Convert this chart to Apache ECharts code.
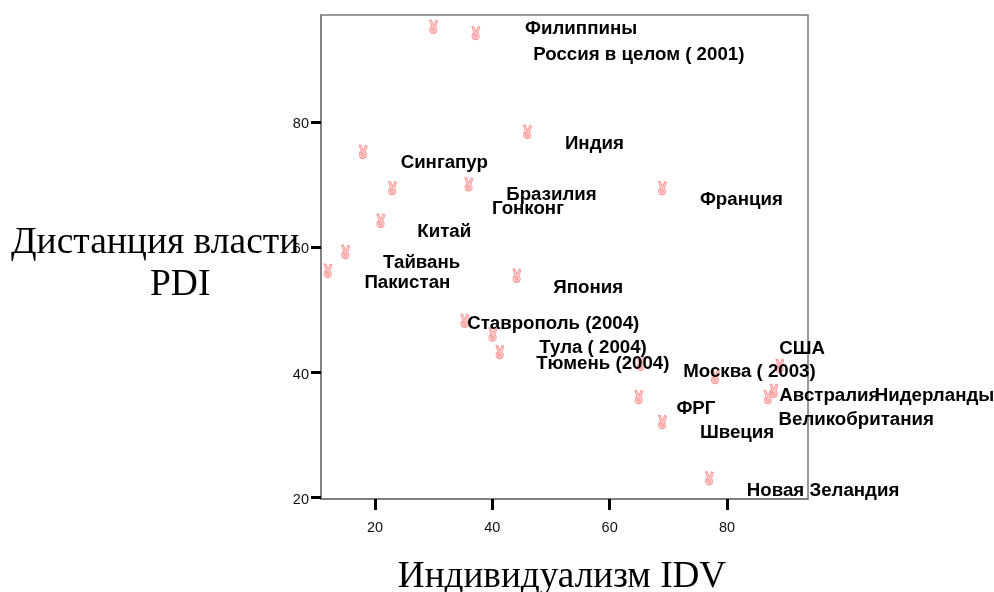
<!DOCTYPE html>
<html>
<head>
<meta charset="utf-8">
<style>
  html, body { margin: 0; padding: 0; background: #fff; }
  #chart { width: 994px; height: 592px; }
</style>
</head>
<body>
<div id="chart"></div>
<script src="https://cdn.jsdelivr.net/npm/echarts@6/dist/echarts.min.js"></script>
<script>
const countries = [
  "Филиппины", "Россия в целом ( 2001)", "Индия", "Сингапур", "Гонконг", "Бразилия",
  "Франция", "Китай", "Тайвань", "Пакистан", "Япония", "Ставрополь (2004)",
  "Тула ( 2004)", "Тюмень (2004)", "Москва ( 2003)", "Нидерланды", "США",
  "Австралия", "Великобритания", "ФРГ", "Швеция", "Новая Зеландия"
];
const idv = [30, 37.2, 46, 18, 23, 36, 69, 21, 15, 12, 44.2, 35.3, 40.1, 41.3, 65.3, 78, 89, 88, 87, 65, 69, 77];
const pdi = [95.2, 94.2, 78.4, 75.2, 69.4, 70, 69.4, 64.2, 59.2, 56.2, 55.4, 48.2, 46, 43.2, 41.3, 39.2, 41, 37, 36, 36, 32, 23];
const xTicks = [20, 40, 60, 80];
const yTicks = [20, 40, 60, 80];

// сдвиг подписи от точки, px
const labelOffsets = [
  [87, 2], [53, 22], [33, 12], [33, 11], [95, 21], [33, 10],
  [33, 12], [32, 11], [33, 11], [32, 12], [32, 12], [-2, 3],
  [42, 13], [32, 12], [38, 8], [155, 19], [-5, -17],
  [1, 5], [6, 23], [33, 12], [33, 11], [33, 12]
];

// значок точки (рука), контур
const handPath = "path://M1 0 L3 0 L5 6 L7 0 L9 1 L7 8 C9 10 9 14 6 15 C3 16 1 14 1 11 C1 9 2 8 3 8 Z M3 10 C3 9 6 9 6 11 C6 13 3 13 3 10 Z";

const chart = echarts.init(document.getElementById("chart"));

const option = {
  animation: false,
  title: [
    { text: "Дистанция власти", left: 6, top: 219, textStyle: { fontFamily: "Liberation Serif", fontWeight: "normal", fontSize: 37.5, color: "#000" } },
    { text: "PDI", left: 145, top: 261, textStyle: { fontFamily: "Liberation Serif", fontWeight: "normal", fontSize: 37.5, color: "#000" } }
  ],
  grid: { left: 321, top: 15, width: 487, height: 484, show: true, borderColor: "#7a7a7a", borderWidth: 1.5, outerBoundsMode: "none" },
  xAxis: {
    type: "value",
    min: 10.8,
    max: 93.8,
    name: "Индивидуализм IDV",
    nameLocation: "middle",
    nameGap: 60,
    nameTextStyle: { fontFamily: "Liberation Serif", fontSize: 37.2, color: "#000", padding: [0, 5, 0, 0] },
    splitLine: { show: false },
    axisLine: { show: true, onZero: false, lineStyle: { color: "#7a7a7a", width: 1.5 } },
    axisTick: { show: true, customValues: xTicks, length: 11, lineStyle: { color: "#000", width: 3 } },
    axisLabel: { customValues: xTicks, margin: 21, fontFamily: "Liberation Sans", fontSize: 14.5, color: "#111" }
  },
  yAxis: {
    type: "value",
    min: 19.7,
    max: 97.1,
    splitLine: { show: false },
    axisLine: { show: true, onZero: false, lineStyle: { color: "#7a7a7a", width: 1.5 } },
    axisTick: { show: true, customValues: yTicks, length: 10, lineStyle: { color: "#000", width: 3 } },
    axisLabel: {
      customValues: yTicks,
      margin: 12,
      formatter: "{a|{value}}",
      rich: { a: { padding: [5, 0, 0, 0], fontFamily: "Liberation Sans", fontSize: 14.5, color: "#111" } }
    }
  },
  series: [
    {
      type: "scatter",
      symbol: handPath,
      symbolSize: [8, 13],
      itemStyle: { color: "rgba(255,170,170,0.6)", borderColor: "#ff9a9a", borderWidth: 1, opacity: 1 },
      label: { show: true, color: "#000", fontFamily: "Liberation Sans", fontWeight: "bold", fontSize: 18.7 },
      data: countries.map((name, i) => ({
        name: name,
        value: [idv[i], pdi[i]],
        label: {
          show: true,
          position: "right",
          distance: 0,
          offset: labelOffsets[i],
          formatter: name,
          color: "#000",
          opacity: 1
        }
      }))
    }
  ]
};

chart.setOption(option);
</script>
</body>
</html>
